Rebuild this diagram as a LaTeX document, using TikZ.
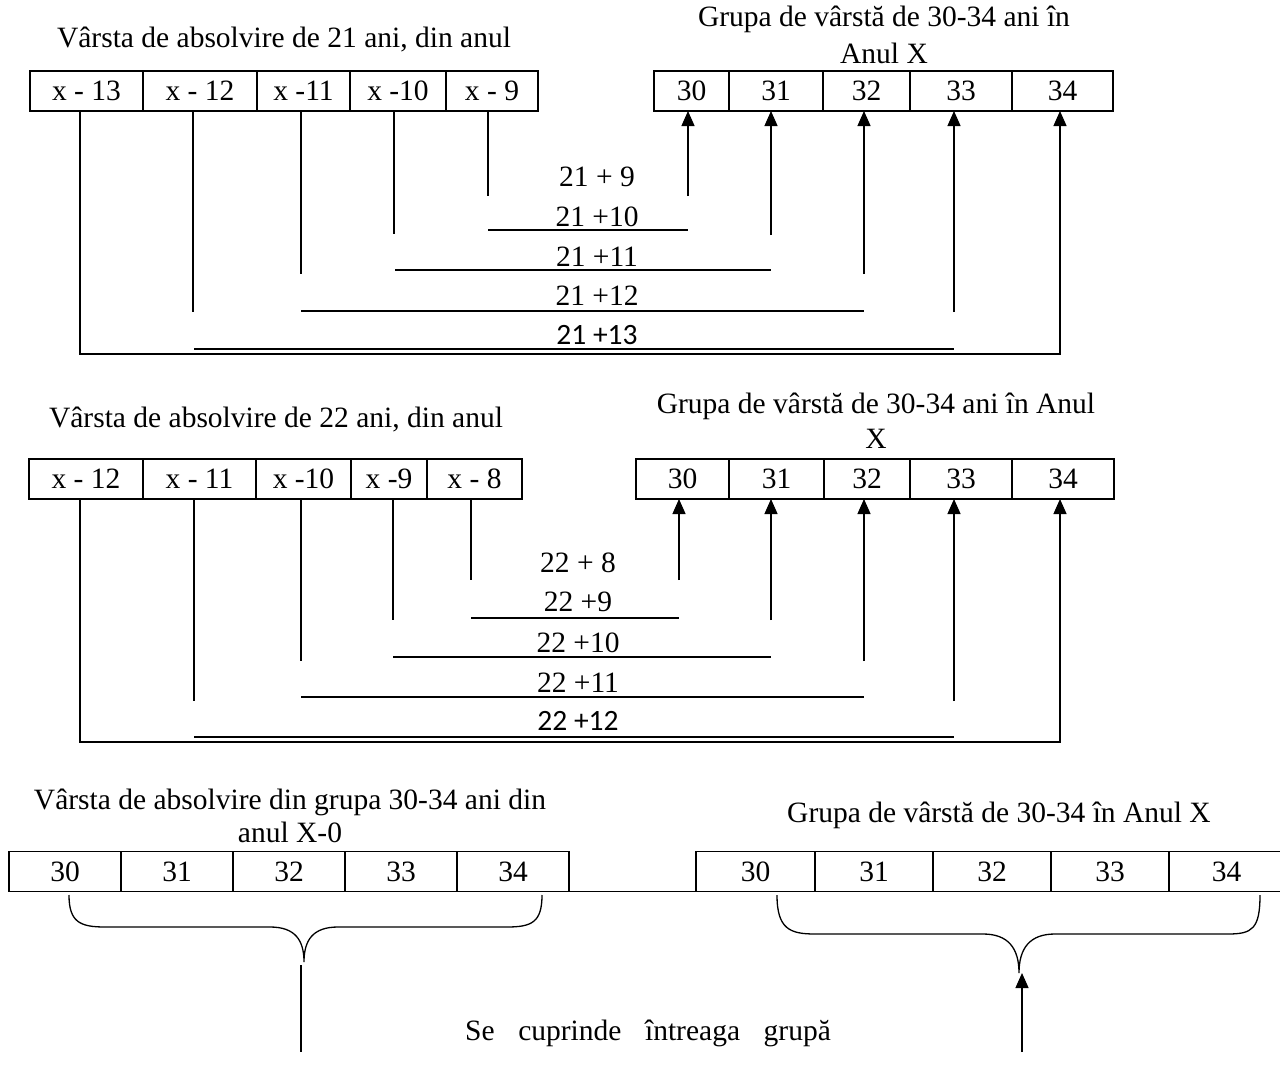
\documentclass[tikz,border=0pt]{standalone}
\usepackage{fontspec}
\setmainfont{Liberation Serif}
\newfontfamily\sumfont{Carlito}
\usetikzlibrary{arrows.meta}
\newcommand{\bigsize}{\fontsize{29.5}{36}\selectfont}
\tikzset{
  cell/.style={draw,line width=1.8pt,minimum height=40pt,inner sep=0pt,outer sep=0pt,font=\bigsize},
  heading/.style={anchor=base,align=center,font=\bigsize},
  sumlabel/.style={anchor=base,font=\bigsize},
  link/.style={line width=1.3pt},
  arrow/.style={link,-{Triangle[length=15pt,width=13pt]}}
}
\begin{document}
\begin{tikzpicture}[x=1pt,y=-1pt]
\useasboundingbox (0,0) rectangle (1280,1084);

% absolvire la 21 de ani
\node[heading] (ha) at (284,47) {Vârsta de absolvire de 21 ani, din anul};
\node[heading] (hb) at (884,63) {Grupa de vârstă de 30-34 ani în\\Anul X};
\foreach \n/\a/\b/\t in {1/30/143/x - 13,2/143/257/x - 12,3/257/350/x -11,4/350/446/x -10,5/446/538/x - 9}
  \node[cell,minimum width={(\b-\a)*1pt}] (ca\n) at ({(\a+\b)/2},91) {\t};
\foreach \n/\a/\b in {0/654/729,1/729/823,2/823/910,3/910/1012,4/1012/1113}
  \node[cell,minimum width={(\b-\a)*1pt}] (cb\n) at ({(\a+\b)/2},91) {3\n};
\draw[arrow] ([xshift=-6.5pt]ca1.south) -- ++(0,243) -| ([xshift=-2.5pt]cb4.south);
\foreach \n/\dx/\len in {2/-7/201,3/-2.5/163,4/-4/123,5/-4/85}
  \draw[link] ([xshift=\dx pt]ca\n.south) -- ++(0,\len);
\foreach \n/\dx/\len in {0/-3.5/85,1/-5/124,2/-2.5/163,3/-7/201}
  \draw[arrow] ([xshift=\dx pt]cb\n.south) ++(0,\len) -- ([xshift=\dx pt]cb\n.south);
\foreach \y/\a/\b in {230/488/688,270/395/771,311/301/864,349/194/954}
  \draw[link] (\a,\y) -- (\b,\y);
\foreach \y/\t [count=\i] in {186/21 + 9,226/21 +10,266/21 +11,305/21 +12}
  \node[sumlabel] (sa\i) at (597,\y) {\t};
\node[sumlabel,font=\sumfont\bigsize] (sa5) at (597,344) {21 +13};

% absolvire la 22 de ani
\node[heading] (hc) at (276,427) {Vârsta de absolvire de 22 ani, din anul};
\node[heading] (hd) at (876,448) {Grupa de vârstă de 30-34 ani în Anul\\[-1pt]X};
\foreach \n/\a/\b/\t in {1/29/143/x - 12,2/143/256/x - 11,3/256/351/x -10,4/351/427/x -9,5/427/522/x - 8}
  \node[cell,minimum width={(\b-\a)*1pt}] (cc\n) at ({(\a+\b)/2},479) {\t};
\foreach \n/\a/\b in {0/636/729,1/729/824,2/824/910,3/910/1012,4/1012/1114}
  \node[cell,minimum width={(\b-\a)*1pt}] (cd\n) at ({(\a+\b)/2},479) {3\n};
\draw[arrow] ([xshift=-6pt]cc1.south) -- ++(0,243) -| ([xshift=-3pt]cd4.south);
\foreach \n/\dx/\len in {2/-5.5/202,3/-2.5/162,4/4/121,5/-3.5/81}
  \draw[link] ([xshift=\dx pt]cc\n.south) -- ++(0,\len);
\foreach \n/\dx/\len in {0/-3.5/81,1/-5.5/121,2/-3/162,3/-7/202}
  \draw[arrow] ([xshift=\dx pt]cd\n.south) ++(0,\len) -- ([xshift=\dx pt]cd\n.south);
\foreach \y/\a/\b in {618/471/679,657/393/771,697/301/864,737/194/954}
  \draw[link] (\a,\y) -- (\b,\y);
\foreach \y/\t [count=\i] in {572/22 + 8,611/22 +9,652/22 +10,692/22 +11}
  \node[sumlabel] (sc\i) at (578,\y) {\t};
\node[sumlabel,font=\sumfont\bigsize] (sc5) at (578,730) {22 +12};

% grupa intreaga
\node[heading] (he) at (290,842) {Vârsta de absolvire din grupa 30-34 ani din\\[-3pt]anul X-0};
\node[heading] (hf) at (999,822) {Grupa de vârstă de 30-34 în Anul X};
\foreach \n/\a/\b in {0/9/121,1/121/233,2/233/345,3/345/457,4/457/569}
  \node[cell,minimum width={(\b-\a)*1pt}] (ce\n) at ({(\a+\b)/2},871.5) {3\n};
\foreach \n/\a/\b in {0/696/815,1/815/933,2/933/1051,3/1051/1169,4/1169/1284}
  \node[cell,minimum width={(\b-\a)*1pt}] (cf\n) at ({(\a+\b)/2},871.5) {3\n};
\draw[line width=1.8pt] (ce4.south east) -- (cf0.south west);
\coordinate (tipe) at (304,962);
\coordinate (tipf) at (1019,973);
\draw[link] (69,895) .. controls (69,922) and (80,927) .. (105,927) -- (270,927)
  .. controls (295,927) and (304,940) .. (tipe)
  .. controls (304,940) and (313,927) .. (338,927) -- (507,927)
  .. controls (532,927) and (542,922) .. (542,895);
\draw[link] (777,895) .. controls (777,929) and (790,934) .. (815,934) -- (983,934)
  .. controls (1008,934) and (1019,948) .. (tipf)
  .. controls (1019,948) and (1030,934) .. (1055,934) -- (1228,934)
  .. controls (1252,934) and (1260,929) .. (1260,895);
\coordinate (downe) at (301,1052);
\coordinate (upf) at (1022,1052);
\draw[link] ([shift={(-3pt,-3pt)}]tipe) -- (downe);
\draw[arrow] (upf) -- ([xshift=3pt]tipf);
\node[sumlabel] (note) at (648,1040) {Se\hspace{0.8em}cuprinde\hspace{0.8em}întreaga\hspace{0.8em}grupă};
\end{tikzpicture}
\end{document}
